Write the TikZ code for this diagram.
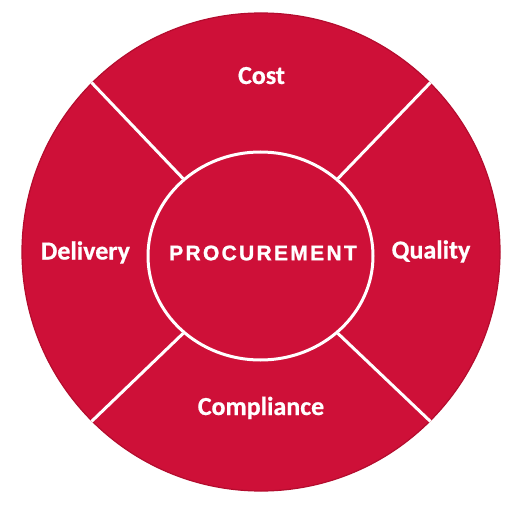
\documentclass[tikz,border=0pt]{standalone}
\usepackage{fontspec}
\usetikzlibrary{shapes.geometric}
\newfontfamily\labelfont[UprightFont={* Bold},FakeBold=0.6]{Carlito}
\newfontfamily\hubfont[UprightFont={* Bold},FakeBold=1.2,LetterSpace=11]{Liberation Sans}
\definecolor{procred}{RGB}{206,16,56}
\definecolor{procedge}{RGB}{180,12,46}
\begin{document}
\begin{tikzpicture}[x=1pt,y=-1pt,
    rim node/.style={circle,fill=procred,draw=procedge,line width=1.2pt,minimum size=478pt,inner sep=0pt},
    hub node/.style={ellipse,draw=white,line width=3pt,minimum width=225pt,minimum height=208pt,inner sep=0pt,text=white,font=\hubfont\fontsize{21}{24}\selectfont},
    area node/.style={text=white,anchor=base,inner sep=0pt,font=\labelfont\fontsize{26}{30}\selectfont},
    spoke/.style={draw=white,line width=3pt}]
                \useasboundingbox (0,0) rectangle (522,508);
                \node[rim node] at (261, 252) (rim) {};
                \node[hub node] at (260.5, 256) (hub) {};
                \node[hub node,draw=none] at (263, 253) (core) {PROCUREMENT};

                \node[area node] at (261.5, 84) (cost) {Cost};
                \node[area node] at (85.5, 259.5) (delivery) {Delivery};
                \node[area node] at (431, 258.5) (quality) {Quality};
                \node[area node] at (261, 415) (compliance) {Compliance};

                \path[spoke]
                    (hub.45) edge (rim.45)
                    (hub.135) edge (rim.135)
                    (hub.225) edge (rim.225)
                    (hub.315) edge (rim.315)
                    ;
            \end{tikzpicture}
\end{document}
